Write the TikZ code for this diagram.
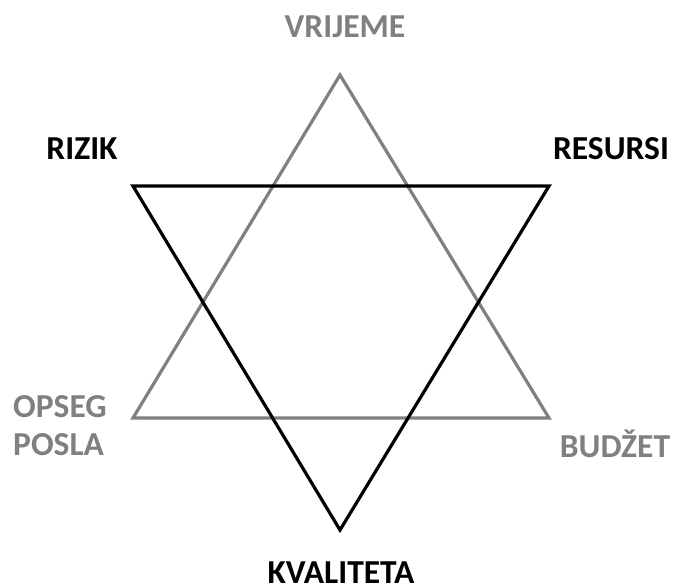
\documentclass[tikz,border=0pt]{standalone}
\usepackage{fontspec}
\setmainfont{Carlito}
\usepackage{xcolor}
\usetikzlibrary{positioning}

\definecolor{hexgray}{HTML}{808080}

\begin{document}
\begin{tikzpicture}[
    x=1pt, y=-1pt,
    font=\fontsize{33.5}{38}\selectfont\bfseries,
    % Styles
    label/.style={inner sep=0pt, anchor=base},
    graylabel/.style={label, text=hexgray},
    blacklabel/.style={label, text=black},
    grayside/.style={draw=hexgray, line width=3.2pt, line join=miter},
    blackside/.style={draw=black, line width=3.2pt, line join=miter}
]
\useasboundingbox (0,0) rectangle (675,588);

% --- Triangle corners ---
\coordinate (vrijeme_pt) at (340,75);
\coordinate (opseg_pt) at (133,418);
\coordinate (budzet_pt) at (549,418);
\coordinate (rizik_pt) at (133,186);
\coordinate (resursi_pt) at (549,186);
\coordinate (kvaliteta_pt) at (340,530);

% --- Labels ---
\node[graylabel] (vrijeme) at (345,38) {VRIJEME};
\node[blacklabel] (rizik) at (82,160) {RIZIK};
\node[blacklabel] (resursi) at (611,160) {RESURSI};
\node[graylabel, anchor=north west, align=left] (opseg) at (13,395) {OPSEG\\POSLA};
\node[graylabel] (budzet) at (615,457) {BUDŽET};
\node[blacklabel] (kvaliteta) at (341,583) {KVALITETA};

% --- Gray triangle ---
\draw[grayside] (vrijeme_pt) -- (budzet_pt) -- (opseg_pt) -- cycle;

% --- Black triangle ---
\draw[blackside] (rizik_pt) -- (resursi_pt) -- (kvaliteta_pt) -- cycle;

\end{tikzpicture}
\end{document}
